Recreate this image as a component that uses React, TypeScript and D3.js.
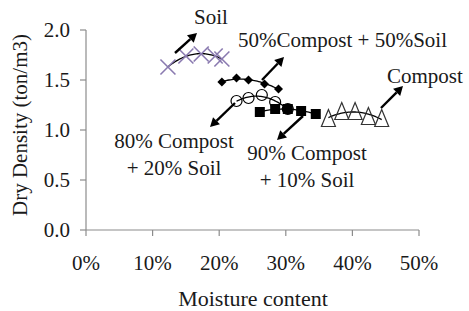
import React from "react";
import * as d3 from "d3";

const xTicks = [0, 0.1, 0.2, 0.3, 0.4, 0.5];
const yTicks = [0, 0.5, 1.0, 1.5, 2.0];

const soilX = [0.123, 0.15, 0.173, 0.194, 0.204];
const soilY = [1.63, 1.74, 1.76, 1.74, 1.71];
const c50X = [0.204, 0.226, 0.244, 0.268, 0.289];
const c50Y = [1.48, 1.52, 1.5, 1.46, 1.41];
const c80X = [0.226, 0.244, 0.264, 0.284, 0.303];
const c80Y = [1.29, 1.32, 1.35, 1.28, 1.21];
const c90X = [0.261, 0.284, 0.303, 0.323, 0.345];
const c90Y = [1.18, 1.21, 1.21, 1.19, 1.16];
const compX = [0.364, 0.384, 0.404, 0.424, 0.444];
const compY = [1.115, 1.185, 1.185, 1.135, 1.115];

const W = 469, H = 311;
const x = d3.scaleLinear().domain([0, 0.5]).range([86, 419]);
const y = d3.scaleLinear().domain([0, 2]).range([230, 30]);

function quadFit(xs: number[], ys: number[]) {
  let s0 = xs.length, s1 = 0, s2 = 0, s3 = 0, s4 = 0, t0 = 0, t1 = 0, t2 = 0;
  xs.forEach((xv, i) => {
    const yv = ys[i];
    s1 += xv; s2 += xv * xv; s3 += xv ** 3; s4 += xv ** 4;
    t0 += yv; t1 += xv * yv; t2 += xv * xv * yv;
  });
  const M = [[s0, s1, s2, t0], [s1, s2, s3, t1], [s2, s3, s4, t2]];
  for (let i = 0; i < 3; i++) {
    for (let k = i + 1; k < 3; k++) {
      const f = M[k][i] / M[i][i];
      for (let j = i; j < 4; j++) M[k][j] -= f * M[i][j];
    }
  }
  const r = [0, 0, 0];
  for (let i = 2; i >= 0; i--) {
    let s = M[i][3];
    for (let j = i + 1; j < 3; j++) s -= M[i][j] * r[j];
    r[i] = s / M[i][i];
  }
  return (v: number) => r[0] + r[1] * v + r[2] * v * v;
}

function Trend({ xs, ys }: { xs: number[]; ys: number[] }) {
  const f = quadFit(xs, ys);
  const lo = d3.min(xs)!, hi = d3.max(xs)!;
  const pts = d3.range(0, 41).map((i) => lo + ((hi - lo) * i) / 40);
  const line = d3.line<number>().x((v) => x(v)).y((v) => y(f(v)));
  return <path d={line(pts) || ""} fill="none" stroke="#000" strokeWidth={1.3} />;
}

const font = "Liberation Serif, serif";
const txt = "#1a1a1a";
const axisC = "#8c8c8c";

function Arrow({ x1, y1, x2, y2 }: { x1: number; y1: number; x2: number; y2: number }) {
  const ang = Math.atan2(y2 - y1, x2 - x1);
  const L = 9, Wd = 5;
  const bx = x2 - L * Math.cos(ang), by = y2 - L * Math.sin(ang);
  const px = -Math.sin(ang) * Wd, py = Math.cos(ang) * Wd;
  return (
    <g>
      <line x1={x1} y1={y1} x2={bx} y2={by} stroke="#000" strokeWidth={2.4} />
      <path d={`M${x2},${y2}L${bx + px},${by + py}L${bx - px},${by - py}Z`} fill="#000" />
    </g>
  );
}

export default function App() {
  return (
    <svg width={W} height={H} style={{ position: "absolute", left: 0, top: 0, background: "#fff" }}>
      <line x1={x(0)} x2={x(0)} y1={y(0)} y2={y(2)} stroke={axisC} strokeWidth={1.2} />
      <line x1={x(0)} x2={x(0.5)} y1={y(0)} y2={y(0)} stroke={axisC} strokeWidth={1.2} />
      {yTicks.map((t) => (
        <g key={"y" + t}>
          <line x1={x(0) - 6} x2={x(0)} y1={y(t)} y2={y(t)} stroke={axisC} strokeWidth={1.2} />
          <text x={70} y={y(t)} dy="0.35em" textAnchor="end" fontFamily={font} fontSize={21} fill={txt}>
            {t.toFixed(1)}
          </text>
        </g>
      ))}
      {xTicks.map((t) => (
        <g key={"x" + t}>
          <line x1={x(t)} x2={x(t)} y1={y(0)} y2={y(0) + 6} stroke={axisC} strokeWidth={1.2} />
          <text x={x(t)} y={270} textAnchor="middle" fontFamily={font} fontSize={21} fill={txt}>
            {d3.format(".0%")(t)}
          </text>
        </g>
      ))}
      <text x={253} y={306} textAnchor="middle" fontFamily={font} fontSize={22} fill={txt}>
        Moisture content
      </text>
      <text transform="translate(27,125) rotate(-90)" textAnchor="middle" fontFamily={font} fontSize={21} fill={txt}>
        Dry Density (ton/m3)
      </text>

      <Trend xs={soilX} ys={soilY} />
      <Trend xs={c50X} ys={c50Y} />
      <Trend xs={c80X} ys={c80Y} />
      <Trend xs={c90X} ys={c90Y} />
      <Trend xs={compX} ys={compY} />

      {soilX.map((v, i) => {
        const cx = x(v), cy = y(soilY[i]), s = 7.5;
        return (
          <g key={"s" + i} stroke="#8a7ab0" strokeWidth={1.6}>
            <line x1={cx - s} y1={cy - s} x2={cx + s} y2={cy + s} />
            <line x1={cx - s} y1={cy + s} x2={cx + s} y2={cy - s} />
          </g>
        );
      })}
      {c50X.map((v, i) => {
        const cx = x(v), cy = y(c50Y[i]), s = 4.5;
        return <path key={"d" + i} d={`M${cx},${cy - s}L${cx + s},${cy}L${cx},${cy + s}L${cx - s},${cy}Z`} fill="#000" />;
      })}
      {c80X.map((v, i) => (
        <circle key={"c" + i} cx={x(v)} cy={y(c80Y[i])} r={5.5} fill="none" stroke="#000" strokeWidth={1.2} />
      ))}
      {c90X.map((v, i) => (
        <rect key={"q" + i} x={x(v) - 5} y={y(c90Y[i]) - 5} width={10} height={10} fill="#000" />
      ))}
      {compX.map((v, i) => {
        const cx = x(v), cy = y(compY[i]);
        return (
          <path key={"t" + i} d={`M${cx},${cy - 9}L${cx + 7},${cy + 8}L${cx - 7},${cy + 8}Z`} fill="none" stroke="#333" strokeWidth={1.2} />
        );
      })}

      <text x={211} y={24} textAnchor="middle" fontFamily={font} fontSize={21} fill={txt}>Soil</text>
      <Arrow x1={175} y1={53} x2={197} y2={33} />
      <text x={238} y={47} fontFamily={font} fontSize={21} fill={txt}>50%Compost + 50%Soil</text>
      <Arrow x1={262} y1={80} x2={284} y2={57} />
      <text x={387} y={83} fontFamily={font} fontSize={21} fill={txt}>Compost</text>
      <Arrow x1={381} y1={108} x2={403} y2={86} />
      <text x={174} y={148} textAnchor="middle" fontFamily={font} fontSize={21} fill={txt}>80% Compost</text>
      <text x={174} y={175} textAnchor="middle" fontFamily={font} fontSize={21} fill={txt}>+ 20% Soil</text>
      <Arrow x1={235} y1={103} x2={210} y2={127} />
      <text x={307} y={160} textAnchor="middle" fontFamily={font} fontSize={21} fill={txt}>90% Compost</text>
      <text x={307} y={187} textAnchor="middle" fontFamily={font} fontSize={21} fill={txt}>+ 10% Soil</text>
      <Arrow x1={303} y1={116} x2={277} y2={140} />
    </svg>
  );
}
